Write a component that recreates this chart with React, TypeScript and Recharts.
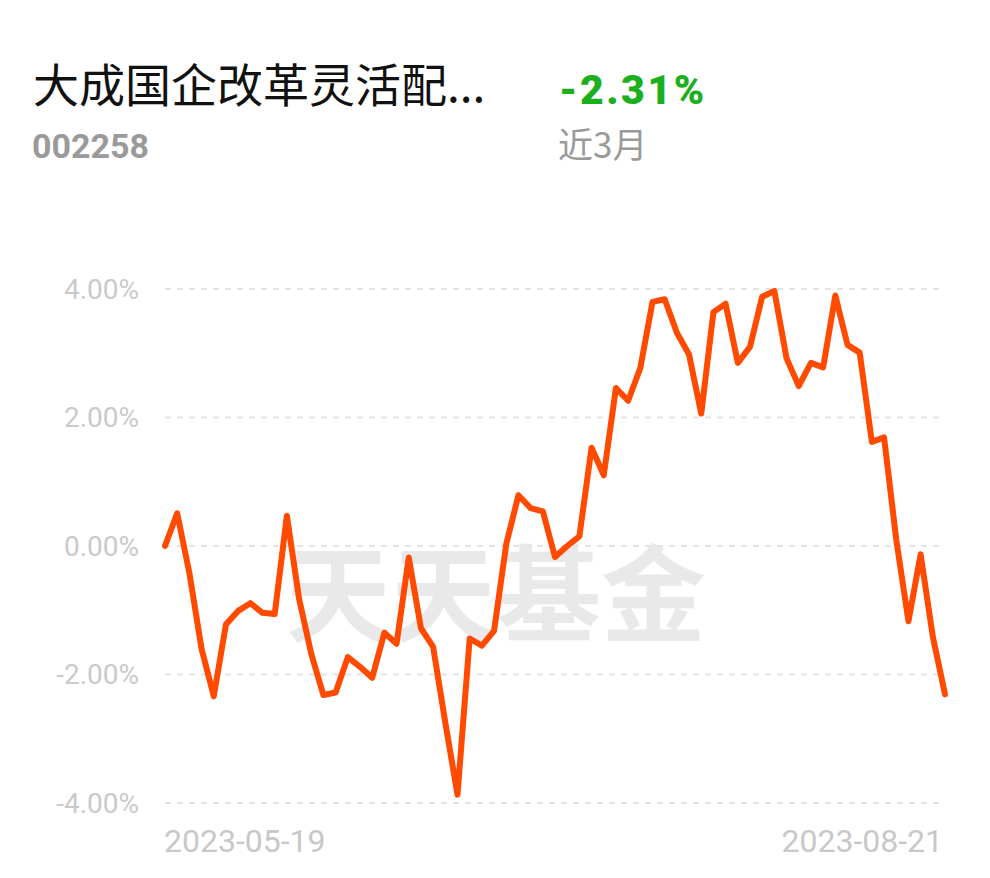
import React from "react";
import { LineChart, Line, XAxis, YAxis, CartesianGrid } from "recharts";

const dates = [
  "2023-05-19", "2023-05-22", "2023-05-23", "2023-05-24", "2023-05-25", "2023-05-26",
  "2023-05-29", "2023-05-30", "2023-05-31",
  "2023-06-01", "2023-06-02", "2023-06-05", "2023-06-06", "2023-06-07", "2023-06-08", "2023-06-09",
  "2023-06-12", "2023-06-13", "2023-06-14", "2023-06-15", "2023-06-16",
  "2023-06-19", "2023-06-20", "2023-06-21", "2023-06-26", "2023-06-27", "2023-06-28", "2023-06-29", "2023-06-30",
  "2023-07-03", "2023-07-04", "2023-07-05", "2023-07-06", "2023-07-07",
  "2023-07-10", "2023-07-11", "2023-07-12", "2023-07-13", "2023-07-14",
  "2023-07-17", "2023-07-18", "2023-07-19", "2023-07-20", "2023-07-21",
  "2023-07-24", "2023-07-25", "2023-07-26", "2023-07-27", "2023-07-28", "2023-07-31",
  "2023-08-01", "2023-08-02", "2023-08-03", "2023-08-04",
  "2023-08-07", "2023-08-08", "2023-08-09", "2023-08-10", "2023-08-11",
  "2023-08-14", "2023-08-15", "2023-08-16", "2023-08-17", "2023-08-18", "2023-08-21",
];

const returns = [
  0.0, 0.51, -0.42, -1.6, -2.34, -1.22, -1.01, -0.89, -1.04, -1.06,
  0.47, -0.82, -1.68, -2.32, -2.28, -1.73, -1.88, -2.05, -1.35, -1.52,
  -0.18, -1.28, -1.57, -2.75, -3.87, -1.44, -1.55, -1.32, 0.03, 0.79,
  0.59, 0.54, -0.17, 0.0, 0.15, 1.53, 1.1, 2.46, 2.26, 2.77,
  3.8, 3.84, 3.32, 2.98, 2.06, 3.64, 3.77, 2.85, 3.1, 3.88,
  3.97, 2.92, 2.49, 2.85, 2.78, 3.9, 3.13, 3.01, 1.62, 1.69,
  0.1, -1.17, -0.13, -1.41, -2.31,
];

const yTicks = [-4, -2, 0, 2, 4];
const xTicks = [dates[0], dates[dates.length - 1]];

const data = dates.map((d, i) => ({ date: d, value: returns[i] }));

function DateTick(props: any) {
  const { x, y, payload } = props;
  const first = payload.value === xTicks[0];
  return (
    <text
      x={first ? x - 1 : x - 2}
      y={y + 41}
      textAnchor={first ? "start" : "end"}
      fill="#c8c8c8"
      fontSize={32}
      fontFamily="Roboto"
    >
      {payload.value}
    </text>
  );
}

export default function App() {
  return (
    <div style={{ position: "absolute", left: 0, top: 0, width: 990, height: 878, background: "#fff", overflow: "hidden" }}>
      <div style={{ position: "absolute", left: 33, top: 54, fontSize: 46, fontFamily: "Noto Sans CJK SC", color: "#111", lineHeight: "56px" }}>
        大成国企改革灵活配...
      </div>
      <div style={{ position: "absolute", left: 32, top: 126, fontSize: 34, fontFamily: "Roboto", fontWeight: 700, color: "#9a9a9a", lineHeight: "40px" }}>
        002258
      </div>
      <div style={{ position: "absolute", left: 559, top: 66, fontSize: 41, fontFamily: "Roboto", fontWeight: 900, color: "#1bae1d", lineHeight: "48px", letterSpacing: 2.5 }}>
        -2.31%
      </div>
      <div style={{ position: "absolute", left: 558, top: 121, fontSize: 35, fontFamily: "Noto Sans CJK SC", color: "#9a9a9a", lineHeight: "44px" }}>
        近3月
      </div>
      <div style={{ position: "absolute", left: 286, top: 522, fontSize: 105, fontWeight: 700, fontFamily: "Noto Sans CJK SC", color: "#e9e9e9", lineHeight: "130px", whiteSpace: "nowrap" }}>
        天天基金
      </div>
      <div style={{ position: "absolute", left: 0, top: 0 }}>
        <LineChart width={990} height={878} data={data} margin={{ top: 289, right: 45, left: 0, bottom: 0 }}>
          <CartesianGrid vertical={false} stroke="#e4e4e4" strokeWidth={2} strokeDasharray="6 6" />
          <XAxis
            dataKey="date"
            ticks={xTicks}
            interval={0}
            axisLine={false}
            tickLine={false}
            height={75}
            tick={<DateTick />}
          />
          <YAxis
            domain={[-4, 4]}
            ticks={yTicks}
            width={165}
            axisLine={false}
            tickLine={false}
            tickMargin={20}
            tick={{ fill: "#cacaca", fontSize: 28, fontFamily: "Roboto" }}
            tickFormatter={(v: number) => `${v.toFixed(2)}%`}
          />
          <Line
            type="linear"
            dataKey="value"
            stroke="#ff4a00"
            strokeWidth={6}
            strokeLinejoin="round"
            strokeLinecap="round"
            dot={false}
            isAnimationActive={false}
          />
        </LineChart>
      </div>
    </div>
  );
}
